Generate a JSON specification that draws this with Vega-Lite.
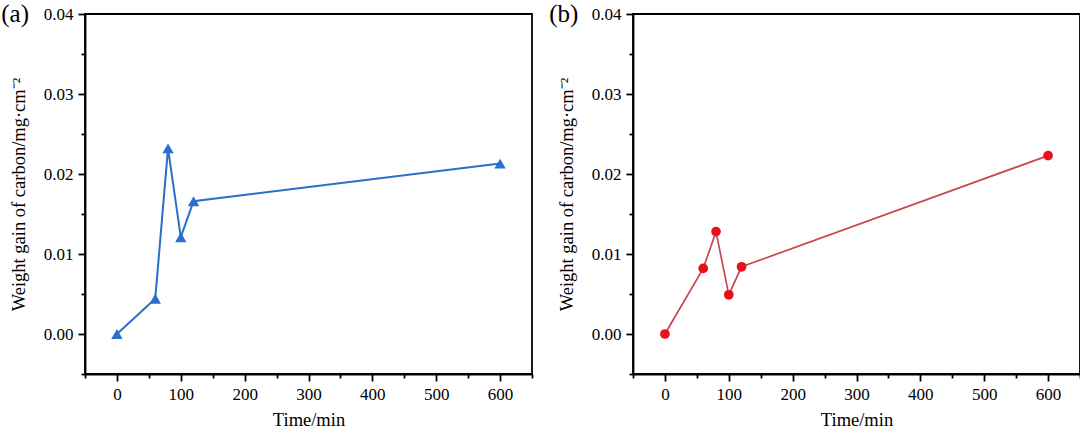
{
  "$schema": "https://vega.github.io/schema/vega-lite/v6.json",
  "padding": {"left": 0, "top": 1, "right": 0, "bottom": 0},
  "background": "white",
  "datasets": {
    "a": [
      {"t": 0, "w": 0.0},
      {"t": 60, "w": 0.0044},
      {"t": 80, "w": 0.0232},
      {"t": 100, "w": 0.0121},
      {"t": 120, "w": 0.0166},
      {"t": 600, "w": 0.0213}
    ],
    "b": [
      {"t": 0, "w": 0.0},
      {"t": 60, "w": 0.0082},
      {"t": 80, "w": 0.0128},
      {"t": 100, "w": 0.0049},
      {"t": 120, "w": 0.0084},
      {"t": 600, "w": 0.0223}
    ]
  },
  "spacing": 14,
  "hconcat": [
    {
      "title": {"text": "(a)", "anchor": "start", "frame": "bounds", "fontSize": 25, "font": "Liberation Serif", "fontWeight": "normal", "color": "black", "offset": -22, "dx": -8},
      "width": 447,
      "height": 360,
      "data": {"name": "a"},
      "encoding": {
        "x": {"field": "t", "type": "quantitative", "scale": {"domain": [-50, 650], "nice": false, "zero": false},
          "axis": {"title": "Time/min", "values": [-50, 0, 50, 100, 150, 200, 250, 300, 350, 400, 450, 500, 550, 600, 650],
            "labelFont": "Liberation Serif", "titleFont": "Liberation Serif",
            "labelExpr": "datum.value % 100 == 0 ? datum.label : ''",
            "tickSize": {"condition": {"test": "datum.value % 100 == 0", "value": 7}, "value": 4}}},
        "y": {"field": "w", "type": "quantitative", "scale": {"domain": [-0.005, 0.04], "nice": false, "zero": false},
          "axis": {"title": "Weight gain of carbon/mg·cm⁻²", "format": ".2f",
            "labelFont": "Liberation Serif", "titleFont": "Liberation Serif",
            "values": [-0.005, 0, 0.005, 0.01, 0.015, 0.02, 0.025, 0.03, 0.035, 0.04],
            "labelExpr": "round(datum.value*1000) % 10 == 0 ? datum.label : ''",
            "tickSize": {"condition": {"test": "round(datum.value*1000) % 10 == 0", "value": 7}, "value": 4}}}
      },
      "layer": [
        {"mark": {"type": "line", "color": "#2a6fca", "strokeWidth": 2}},
        {"mark": {"type": "point", "shape": "triangle-up", "filled": true, "size": 130, "color": "#2a6fca", "opacity": 1}}
      ]
    },
    {
      "title": {"text": "(b)", "anchor": "start", "frame": "bounds", "fontSize": 25, "font": "Liberation Serif", "fontWeight": "normal", "color": "black", "offset": -22, "dx": -8},
      "width": 447,
      "height": 360,
      "data": {"name": "b"},
      "encoding": {
        "x": {"field": "t", "type": "quantitative", "scale": {"domain": [-50, 650], "nice": false, "zero": false},
          "axis": {"title": "Time/min", "values": [-50, 0, 50, 100, 150, 200, 250, 300, 350, 400, 450, 500, 550, 600, 650],
            "labelFont": "Liberation Serif", "titleFont": "Liberation Serif",
            "labelExpr": "datum.value % 100 == 0 ? datum.label : ''",
            "tickSize": {"condition": {"test": "datum.value % 100 == 0", "value": 7}, "value": 4}}},
        "y": {"field": "w", "type": "quantitative", "scale": {"domain": [-0.005, 0.04], "nice": false, "zero": false},
          "axis": {"title": "Weight gain of carbon/mg·cm⁻²", "format": ".2f",
            "labelFont": "Liberation Serif", "titleFont": "Liberation Serif",
            "values": [-0.005, 0, 0.005, 0.01, 0.015, 0.02, 0.025, 0.03, 0.035, 0.04],
            "labelExpr": "round(datum.value*1000) % 10 == 0 ? datum.label : ''",
            "tickSize": {"condition": {"test": "round(datum.value*1000) % 10 == 0", "value": 7}, "value": 4}}}
      },
      "layer": [
        {"mark": {"type": "line", "color": "#c8464c", "strokeWidth": 1.7}},
        {"mark": {"type": "point", "shape": "circle", "filled": true, "size": 95, "color": "#e8111b", "opacity": 1}}
      ]
    }
  ],
  "config": {
    "font": "Liberation Serif",
    "view": {"stroke": "black", "strokeWidth": 1.8},
    "axis": {
      "grid": false,
      "domainColor": "black", "domainWidth": 1.8,
      "tickColor": "black", "tickWidth": 1.8,
      "labelFont": "Liberation Serif", "labelFontSize": 17, "labelColor": "black", "labelPadding": 5,
      "labelOverlap": false, "labelFlush": false,
      "titleFont": "Liberation Serif", "titleFontSize": 18.5, "titleFontWeight": "normal", "titleColor": "black"
    },
    "axisX": {"titlePadding": 8},
    "axisY": {"titlePadding": 15}
  }
}
